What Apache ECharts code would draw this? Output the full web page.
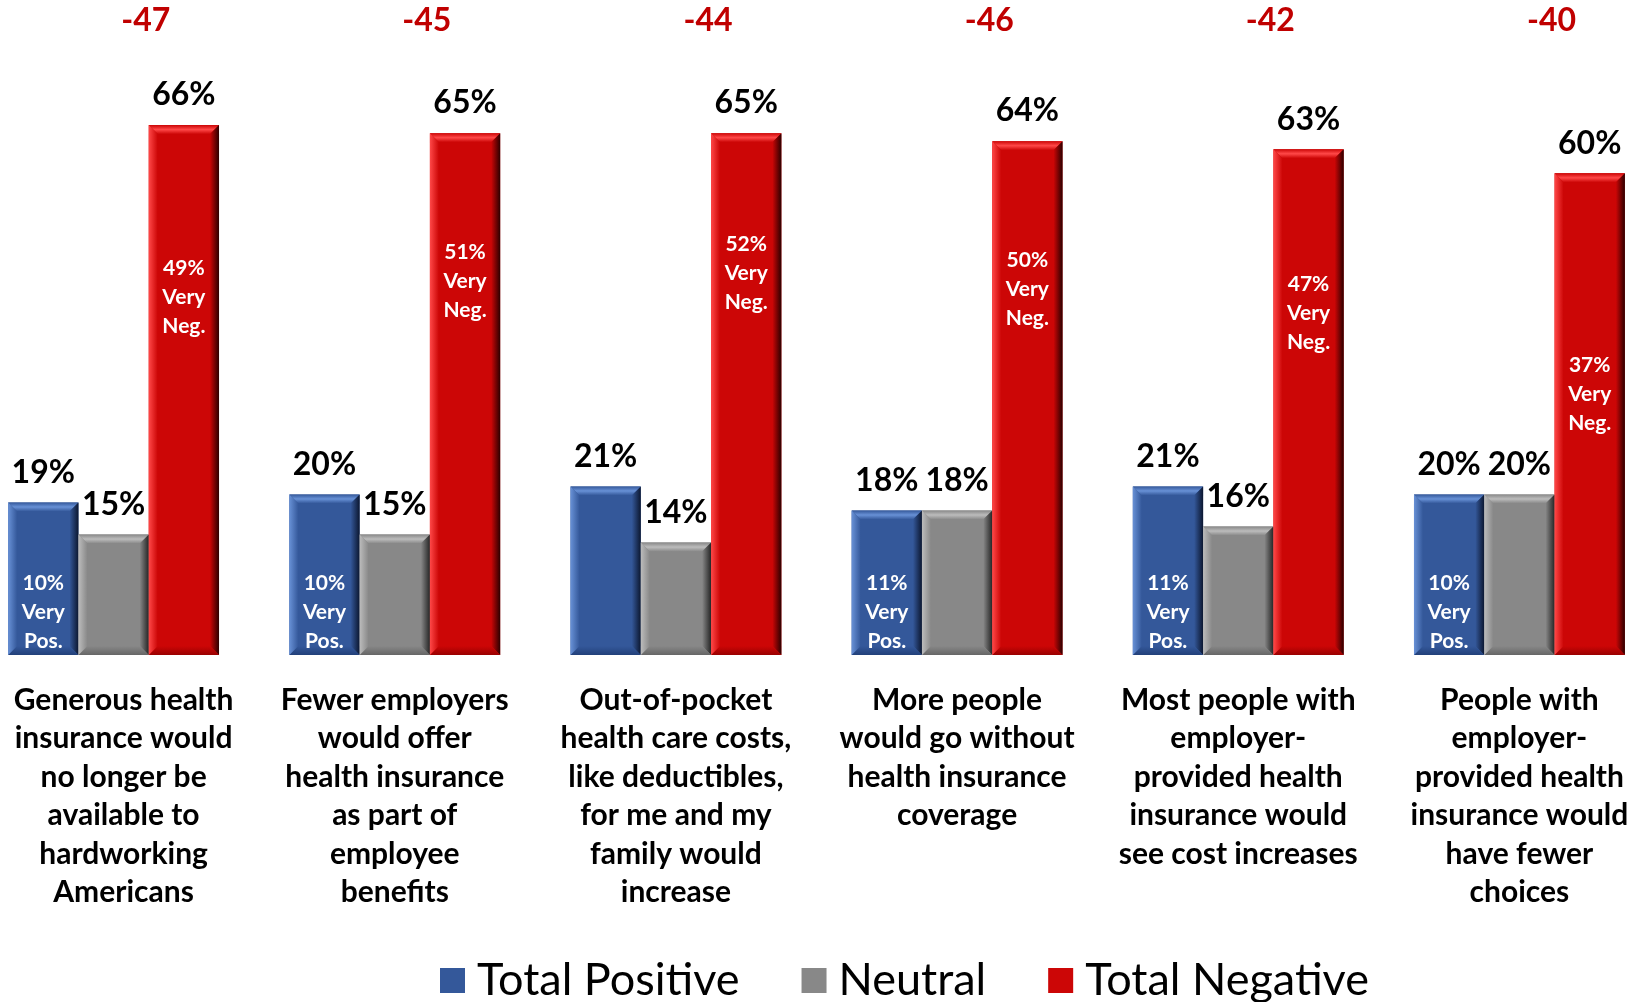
<!DOCTYPE html>
<html>
<head>
  <meta charset="utf-8">
  <title>Health insurance impact</title>
  <script src="https://cdn.jsdelivr.net/npm/echarts@6/dist/echarts.min.js"></script>
  <style>
    html,body{margin:0;padding:0;background:#fff;}
  </style>
</head>

<body>
	<div style="width:1636px;height:1002px;" id="main"></div>

<script type="text/javascript">
var categories = [
  'Generous health\ninsurance would\nno longer be\navailable to\nhardworking\nAmericans',
  'Fewer employers\nwould offer\nhealth insurance\nas part of\nemployee\nbenefits',
  'Out-of-pocket\nhealth care costs,\nlike deductibles,\nfor me and my\nfamily would\nincrease',
  'More people\nwould go without\nhealth insurance\ncoverage',
  'Most people with\nemployer-\nprovided health\ninsurance would\nsee cost increases',
  'People with\nemployer-\nprovided health\ninsurance would\nhave fewer\nchoices'
];
var totalPositive = [19, 20, 21, 18, 21, 20];
var neutral = [15, 15, 14, 18, 16, 20];
var totalNegative = [66, 65, 65, 64, 63, 60];
var netScore = [-47, -45, -44, -46, -42, -40];
var veryPositive = [10, 10, null, 11, 11, 10];
var veryNegative = [49, 51, 52, 50, 47, 37];

var FONT = 'Lato';
var GAP = 0.25;

// 每个系列的颜色: 主色, 顶部高光, 右侧暗部, 底部
var palette = [
  {main: '#34589a', light: '#6891d6', dark: '#0c1730', bottom: '#22407a'},
  {main: '#888888', light: '#bcbcbc', dark: '#262626', bottom: '#666666'},
  {main: '#cc0606', light: '#ff4848', dark: '#2c0000', bottom: '#9a0000'}
];

var valueLabel = {
  show: true,
  position: 'top',
  distance: 14,
  formatter: '{c}%',
  fontFamily: FONT,
  fontWeight: 'bold',
  fontSize: 32,
  color: '#000'
};

function barWidthOf(api){
  return api.size([1, 0])[0] * (1 - GAP) / 3;
}

// 第一个标签离左边太近, 往右挪一点
var categoryData = categories.map(function(c, i){
  return i === 0 ? {value: c, textStyle: {padding: [0, 0, 0, 20]}} : c;
});

// 斜面的数据: [类别, 系列序号, 数值]
var bevelData = [];
[totalPositive, neutral, totalNegative].forEach(function(arr, s){
  arr.forEach(function(v, i){ bevelData.push([i, s, v]); });
});

var myChart = echarts.init(document.getElementById('main'));

var option = {
  animation: false,
  grid: {left: -27, right: -24, top: 93, bottom: 347, outerBoundsMode: 'none', containLabel: false},
  legend: {
    data: ['Total Positive', 'Neutral', 'Total Negative'],
    left: 440,
    top: 958,
    padding: 0,
    itemWidth: 25,
    itemHeight: 25,
    itemGap: 62,
    icon: 'rect',
    textStyle: {fontFamily: FONT, fontSize: 45, color: '#000', padding: [0, 0, 0, 7]}
  },
  xAxis: {
    type: 'category',
    data: categoryData,
    axisLine: {show: false},
    axisTick: {show: false},
    axisLabel: {
      interval: 0,
      margin: 26,
      fontFamily: FONT,
      fontWeight: 'bold',
      fontSize: 30,
      lineHeight: 38.5,
      color: '#000',
      align: 'center'
    }
  },
  yAxis: {
    type: 'value',
    min: 0,
    max: 70,
    show: false,
    splitLine: {show: false}
  },
  series: [
    {
      name: 'Total Positive',
      type: 'bar',
      data: totalPositive,
      barGap: '0%',
      barCategoryGap: GAP * 100 + '%',
      itemStyle: {color: palette[0].main},
      label: valueLabel
    },
    {
      name: 'Neutral',
      type: 'bar',
      data: neutral,
      itemStyle: {color: palette[1].main},
      label: valueLabel
    },
    {
      name: 'Total Negative',
      type: 'bar',
      data: totalNegative,
      itemStyle: {color: palette[2].main},
      label: valueLabel
    },
    {
      name: 'bevel',
      type: 'custom',
      silent: true,
      z: 5,
      data: bevelData,
      renderItem: function(params, api){
        var s = api.value(1);
        var c = palette[s];
        var base = api.coord([api.value(0), 0]);
        var top = api.coord([api.value(0), api.value(2)]);
        var bw = barWidthOf(api);
        var cx = base[0] + (s - 1) * bw;
        var x0 = cx - bw / 2, x1 = cx + bw / 2, y0 = top[1], y1 = base[1];
        var b = 9;
        function poly(pts, fill){
          return {type: 'polygon', shape: {points: pts}, style: {fill: fill}};
        }
        return {
          type: 'group',
          children: [
            poly([[x0, y0], [x1, y0], [x1 - b, y0 + b], [x0 + b, y0 + b]],
              new echarts.graphic.LinearGradient(0, 0, 0, 1, [{offset: 0, color: c.main}, {offset: 0.5, color: c.light}, {offset: 1, color: c.main}])),
            poly([[x1, y0], [x1, y1], [x1 - b, y1 - b], [x1 - b, y0 + b]],
              new echarts.graphic.LinearGradient(0, 0, 1, 0, [{offset: 0, color: c.main}, {offset: 1, color: c.dark}])),
            poly([[x0, y1], [x1, y1], [x1 - b, y1 - b], [x0 + b, y1 - b]],
              new echarts.graphic.LinearGradient(0, 0, 0, 1, [{offset: 0, color: c.main}, {offset: 1, color: c.bottom}])),
            poly([[x0, y0], [x0, y1], [x0 + b, y1 - b], [x0 + b, y0 + b]],
              new echarts.graphic.LinearGradient(0, 0, 1, 0, [{offset: 0, color: c.light}, {offset: 1, color: c.main}]))
          ]
        };
      }
    },
    {
      name: 'veryPos',
      type: 'custom',
      silent: true,
      data: veryPositive.map(function(v, i){ return [i, v]; }),
      z: 10,
      renderItem: function(params, api){
        var v = api.value(1);
        if (v == null || isNaN(v)) return;
        var base = api.coord([api.value(0), 0]);
        var bw = barWidthOf(api);
        return {
          type: 'text',
          style: {
            x: base[0] - bw,
            y: base[1] + 1,
            text: v + '%\nVery\nPos.',
            align: 'center',
            verticalAlign: 'bottom',
            fill: '#fff',
            font: 'bold 21px ' + FONT,
            lineHeight: 29
          }
        };
      }
    },
    {
      name: 'veryNeg',
      type: 'custom',
      silent: true,
      data: veryNegative.map(function(v, i){ return [i, v]; }),
      z: 10,
      renderItem: function(params, api){
        var p = api.coord([api.value(0), api.value(1)]);
        var bw = barWidthOf(api);
        return {
          type: 'text',
          style: {
            x: p[0] + bw,
            y: p[1] + 36,
            text: api.value(1) + '%\nVery\nNeg.',
            align: 'center',
            verticalAlign: 'middle',
            fill: '#fff',
            font: 'bold 21px ' + FONT,
            lineHeight: 29
          }
        };
      }
    },
    {
      name: 'net',
      type: 'custom',
      silent: true,
      data: netScore.map(function(v, i){ return [i, v]; }),
      renderItem: function(params, api){
        var p = api.coord([api.value(0), 0]);
        var bw = barWidthOf(api);
        return {
          type: 'text',
          style: {
            x: p[0] + bw / 2 - 3,
            y: 21,
            text: String(api.value(1)),
            align: 'center',
            verticalAlign: 'middle',
            fill: '#c00000',
            font: 'bold 32px ' + FONT
          }
        };
      }
    }
  ]
};

myChart.setOption(option);
</script>
</body>
</html>
